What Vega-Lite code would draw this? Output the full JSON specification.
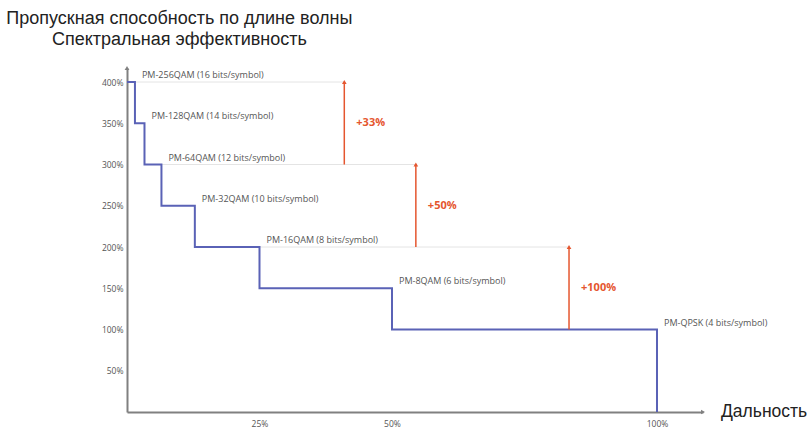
{
  "$schema": "https://vega.github.io/schema/vega-lite/v6.json",
  "width": 576,
  "height": 344,
  "autosize": {"type": "none"},
  "padding": {"left": 127, "top": 68, "right": 108, "bottom": 15},
  "background": "white",
  "config": {"view": {"stroke": null}},
  "title": {
    "text": ["Пропускная способность по длине волны", "Спектральная эффективность"],
    "anchor": "start",
    "align": "center",
    "dx": 78,
    "offset": 17,
    "font": "Liberation Sans",
    "fontSize": 18,
    "fontWeight": "normal",
    "color": "#222222",
    "lineHeight": 21
  },
  "datasets": {
    "path": [
      {"range": 0, "capacity": 400},
      {"range": 1.5, "capacity": 350},
      {"range": 3.3, "capacity": 300},
      {"range": 6.5, "capacity": 250},
      {"range": 12.8, "capacity": 200},
      {"range": 25, "capacity": 150},
      {"range": 50, "capacity": 100},
      {"range": 100, "capacity": 100},
      {"range": 100, "capacity": 0}
    ],
    "steps": [
      {"label": "PM-256QAM (16 bits/symbol)", "range_end": 1.5, "capacity": 400},
      {"label": "PM-128QAM (14 bits/symbol)", "range_end": 3.3, "capacity": 350},
      {"label": "PM-64QAM (12 bits/symbol)", "range_end": 6.5, "capacity": 300},
      {"label": "PM-32QAM (10 bits/symbol)", "range_end": 12.8, "capacity": 250},
      {"label": "PM-16QAM (8 bits/symbol)", "range_end": 25, "capacity": 200},
      {"label": "PM-8QAM (6 bits/symbol)", "range_end": 50, "capacity": 150},
      {"label": "PM-QPSK (4 bits/symbol)", "range_end": 100, "capacity": 100}
    ],
    "guides": [
      {"capacity": 400, "from": 1.5, "to": 41},
      {"capacity": 300, "from": 6.5, "to": 54.5},
      {"capacity": 200, "from": 25, "to": 83.4}
    ],
    "gains": [
      {"range": 41, "low": 300, "high": 400, "mid": 350, "gain": "+33%"},
      {"range": 54.5, "low": 200, "high": 300, "mid": 250, "gain": "+50%"},
      {"range": 83.4, "low": 100, "high": 200, "mid": 150, "gain": "+100%"}
    ],
    "axisEnds": [
      {"range": 108.68, "capacity": 0, "shape": "triangle-right"},
      {"range": 0, "capacity": 417, "shape": "triangle-up"}
    ],
    "axisName": [
      {"range": 108.68, "capacity": 0, "name": "Дальность"}
    ]
  },
  "layer": [
    {
      "data": {"name": "guides"},
      "mark": {"type": "rule", "color": "#e4e4e4", "strokeWidth": 1},
      "encoding": {
        "x": {"field": "from", "type": "quantitative", "scale": {"domain": [0, 108.68], "nice": false}},
        "x2": {"field": "to"},
        "y": {"field": "capacity", "type": "quantitative", "scale": {"domain": [0, 417], "nice": false}}
      }
    },
    {
      "data": {"name": "path"},
      "mark": {"type": "line", "interpolate": "step-after", "color": "#5a62b6", "strokeWidth": 2},
      "encoding": {
        "x": {
          "field": "range", "type": "quantitative",
          "scale": {"domain": [0, 108.68], "nice": false},
          "axis": {
            "values": [25, 50, 100], "labelExpr": "datum.value + '%'",
            "title": null, "grid": false, "ticks": false,
            "domainColor": "#808080", "domainWidth": 2,
            "labelFont": "Open Sans", "labelFontSize": 8.5, "labelColor": "#555555", "labelPadding": 7
          }
        },
        "y": {
          "field": "capacity", "type": "quantitative",
          "scale": {"domain": [0, 417], "nice": false},
          "axis": {
            "values": [50, 100, 150, 200, 250, 300, 350, 400], "labelExpr": "datum.value + '%'",
            "title": null, "grid": false, "ticks": false,
            "domainColor": "#808080", "domainWidth": 2,
            "labelFont": "Open Sans", "labelFontSize": 8.5, "labelColor": "#555555", "labelPadding": 4
          }
        }
      }
    },
    {
      "data": {"name": "axisEnds"},
      "mark": {"type": "point", "filled": true, "size": 22, "color": "#808080", "opacity": 1},
      "encoding": {
        "x": {"field": "range", "type": "quantitative"},
        "y": {"field": "capacity", "type": "quantitative"},
        "shape": {"field": "shape", "type": "nominal", "scale": null}
      }
    },
    {
      "data": {"name": "steps"},
      "mark": {"type": "text", "align": "left", "baseline": "middle", "dx": 7, "dy": -7, "font": "Open Sans", "fontSize": 9, "color": "#555555"},
      "encoding": {
        "x": {"field": "range_end", "type": "quantitative"},
        "y": {"field": "capacity", "type": "quantitative"},
        "text": {"field": "label"}
      }
    },
    {
      "data": {"name": "gains"},
      "mark": {"type": "rule", "color": "#e5562f", "strokeWidth": 1.5},
      "encoding": {
        "x": {"field": "range", "type": "quantitative"},
        "y": {"field": "low", "type": "quantitative"},
        "y2": {"field": "high"}
      }
    },
    {
      "data": {"name": "gains"},
      "mark": {"type": "point", "shape": "triangle-up", "filled": true, "size": 22, "color": "#e5562f", "opacity": 1},
      "encoding": {
        "x": {"field": "range", "type": "quantitative"},
        "y": {"field": "high", "type": "quantitative"}
      }
    },
    {
      "data": {"name": "gains"},
      "mark": {"type": "text", "align": "left", "baseline": "middle", "dx": 12, "font": "Open Sans", "fontSize": 11, "fontWeight": "bold", "color": "#e5562f"},
      "encoding": {
        "x": {"field": "range", "type": "quantitative"},
        "y": {"field": "mid", "type": "quantitative"},
        "text": {"field": "gain"}
      }
    },
    {
      "data": {"name": "axisName"},
      "mark": {"type": "text", "align": "left", "baseline": "middle", "dx": 18, "font": "Liberation Sans", "fontSize": 17.5, "color": "#222222"},
      "encoding": {
        "x": {"field": "range", "type": "quantitative"},
        "y": {"field": "capacity", "type": "quantitative"},
        "text": {"field": "name"}
      }
    }
  ]
}
